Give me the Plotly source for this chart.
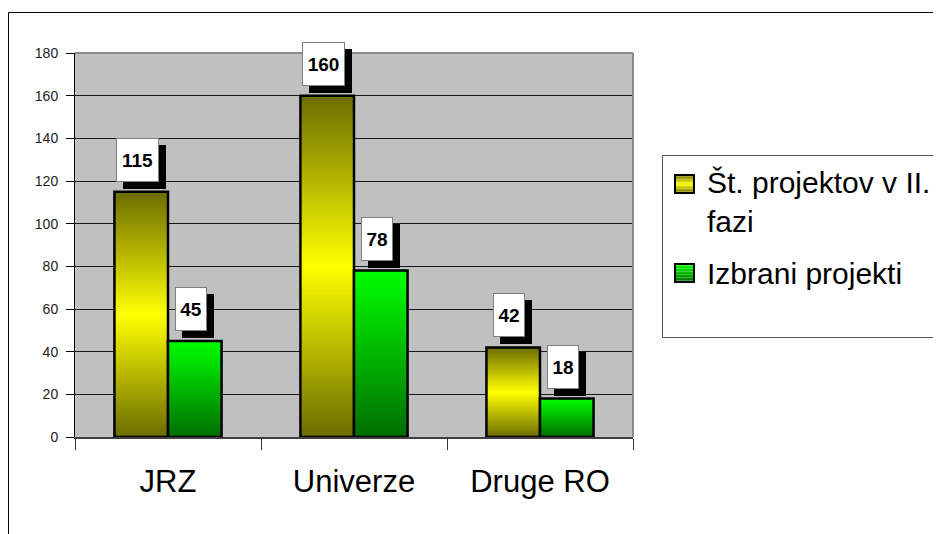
import plotly.graph_objects as go

# ---- data ----
categories = ["JRZ", "Univerze", "Druge RO"]
series_names = ["Št. projektov v II. fazi", "Izbrani projekti"]
projects_phase2 = [115, 160, 42]
selected_projects = [45, 78, 18]
y_ticks = [0, 20, 40, 60, 80, 100, 120, 140, 160, 180]

# ---- geometry (page pixels; page body has an 8px margin) ----
OFF = 8
W, H = 941 - OFF, 534 - OFF
L, R, T, B = 75 - OFF, 941 - 633, 53 - OFF, 534 - 437
PW, PH = W - L - R, H - T - B


def px(x):
    return (x - OFF - L) / PW


def py(y):
    return (H - B - (y - OFF)) / PH


def lerp(c1, c2, t):
    return "rgb(%d,%d,%d)" % tuple(round(a + (b - a) * t) for a, b in zip(c1, c2))


OLIVE = (108, 108, 0)
YELLOW = (255, 255, 0)
GREEN_TOP = (0, 255, 0)
GREEN_BOT = (0, 110, 0)


def yellow_grad(t):  # t: 0 bottom .. 1 top
    return lerp(OLIVE, YELLOW, 1 - abs(2 * t - 1))


def green_grad(t):
    return lerp(GREEN_BOT, GREEN_TOP, t)


BAR_W = 0.288
series = [
    (series_names[0], projects_phase2, -BAR_W, yellow_grad),
    (series_names[1], selected_projects, 0.0, green_grad),
]

fig = go.Figure()
N = 120
for name, vals, off, grad in series:
    for k in range(N):
        frac = (N - k) / N
        fig.add_trace(go.Bar(
            x=categories, y=[v * frac for v in vals], base=0,
            offset=off, width=BAR_W,
            marker=dict(color=grad((N - k - 0.5) / N), line=dict(width=0)),
            showlegend=False, hoverinfo="skip"))
    fig.add_trace(go.Bar(
        x=categories, y=vals, offset=off, width=BAR_W, name=name,
        marker=dict(color="rgba(0,0,0,0)", line=dict(color="black", width=2.5)),
        showlegend=False))

LABEL_FONT = dict(family="Liberation Sans, Arial", size=19, color="black")
annotations = []
for name, vals, off, grad in series:
    for i, v in enumerate(vals):
        xc = i + off + BAR_W / 2
        txt = str(v)
        wbox = round(len(txt) * 10.6) + 1
        common = dict(x=xc, y=v, xref="x", yref="y", showarrow=False,
                      yanchor="bottom", xanchor="center", font=LABEL_FONT,
                      borderpad=4, borderwidth=1, height=34, width=wbox)
        # shadow box
        annotations.append(dict(common, text=" ", xshift=-4 + 7, yshift=10 - 7,
                                bgcolor="black", bordercolor="black"))
        # white label box
        annotations.append(dict(common, text="<b>%s</b>" % txt, xshift=-4, yshift=10,
                                bgcolor="white", bordercolor="#7f7f7f"))

# legend (drawn manually)
shapes = []
shapes.append(dict(type="rect", xref="paper", yref="paper",
                   x0=px(662.5), x1=px(990), y0=py(155.5), y1=py(337.5),
                   line=dict(color="#555555", width=1), fillcolor="white", layer="below"))
legend_items = [(series_names[0], yellow_grad, 175, 193, "Št. projektov v II.<br>fazi", 201.5),
                (series_names[1], green_grad, 264, 282, "Izbrani projekti", 273)]
for name, grad, y0, y1, label, ytext in legend_items:
    S = 12
    for s in range(S):
        shapes.append(dict(type="rect", xref="paper", yref="paper",
                           x0=px(675), x1=px(694),
                           y0=py(y1 - (y1 - y0) * s / S), y1=py(y1 - (y1 - y0) * (s + 1) / S),
                           line=dict(width=0), fillcolor=grad((s + 0.5) / S)))
    shapes.append(dict(type="rect", xref="paper", yref="paper",
                       x0=px(675), x1=px(694), y0=py(y1), y1=py(y0),
                       line=dict(color="black", width=2), fillcolor="rgba(0,0,0,0)"))
    annotations.append(dict(x=px(705), y=py(ytext), xref="paper", yref="paper",
                            xanchor="left", yanchor="middle", align="left", showarrow=False,
                            text=label,
                            font=dict(family="Liberation Sans, Arial", size=30, color="black")))

# outer chart border and plot area border
shapes.append(dict(type="rect", xref="paper", yref="paper",
                   x0=px(8.5), x1=px(1000), y0=py(600), y1=py(12.5),
                   line=dict(color="black", width=1), layer="below"))
shapes.append(dict(type="line", xref="paper", yref="paper", x0=0, x1=1, y0=1, y1=1,
                   line=dict(color="#8c8c8c", width=2)))
shapes.append(dict(type="line", xref="paper", yref="paper", x0=1, x1=1, y0=0, y1=1,
                   line=dict(color="#8c8c8c", width=2)))

fig.update_layout(
    width=W, height=H, autosize=False,
    margin=dict(l=L, r=R, t=T, b=B, pad=0),
    paper_bgcolor="white", plot_bgcolor="#c0c0c0",
    barmode="overlay", showlegend=False,
    annotations=annotations, shapes=shapes,
    font=dict(family="Liberation Sans, Arial", color="black"),
    xaxis=dict(type="category", range=[-0.5, 2.5], tickson="boundaries",
               ticks="outside", ticklen=11, tickcolor="#333333", tickwidth=1,
               showline=True, linecolor="#404040", linewidth=2,
               showgrid=False, tickfont=dict(size=31, color="black"),
               ticklabelstandoff=16),
    yaxis=dict(range=[0, 180], tickvals=y_ticks, ticks="outside", ticklen=8,
               tickcolor="black", showline=True, linecolor="black", linewidth=1,
               showgrid=True, gridcolor="#1a1a1a", gridwidth=1, zeroline=False,
               tickfont=dict(size=14, color="#222222"), ticklabelstandoff=5),
)

fig.write_html("out.html")
